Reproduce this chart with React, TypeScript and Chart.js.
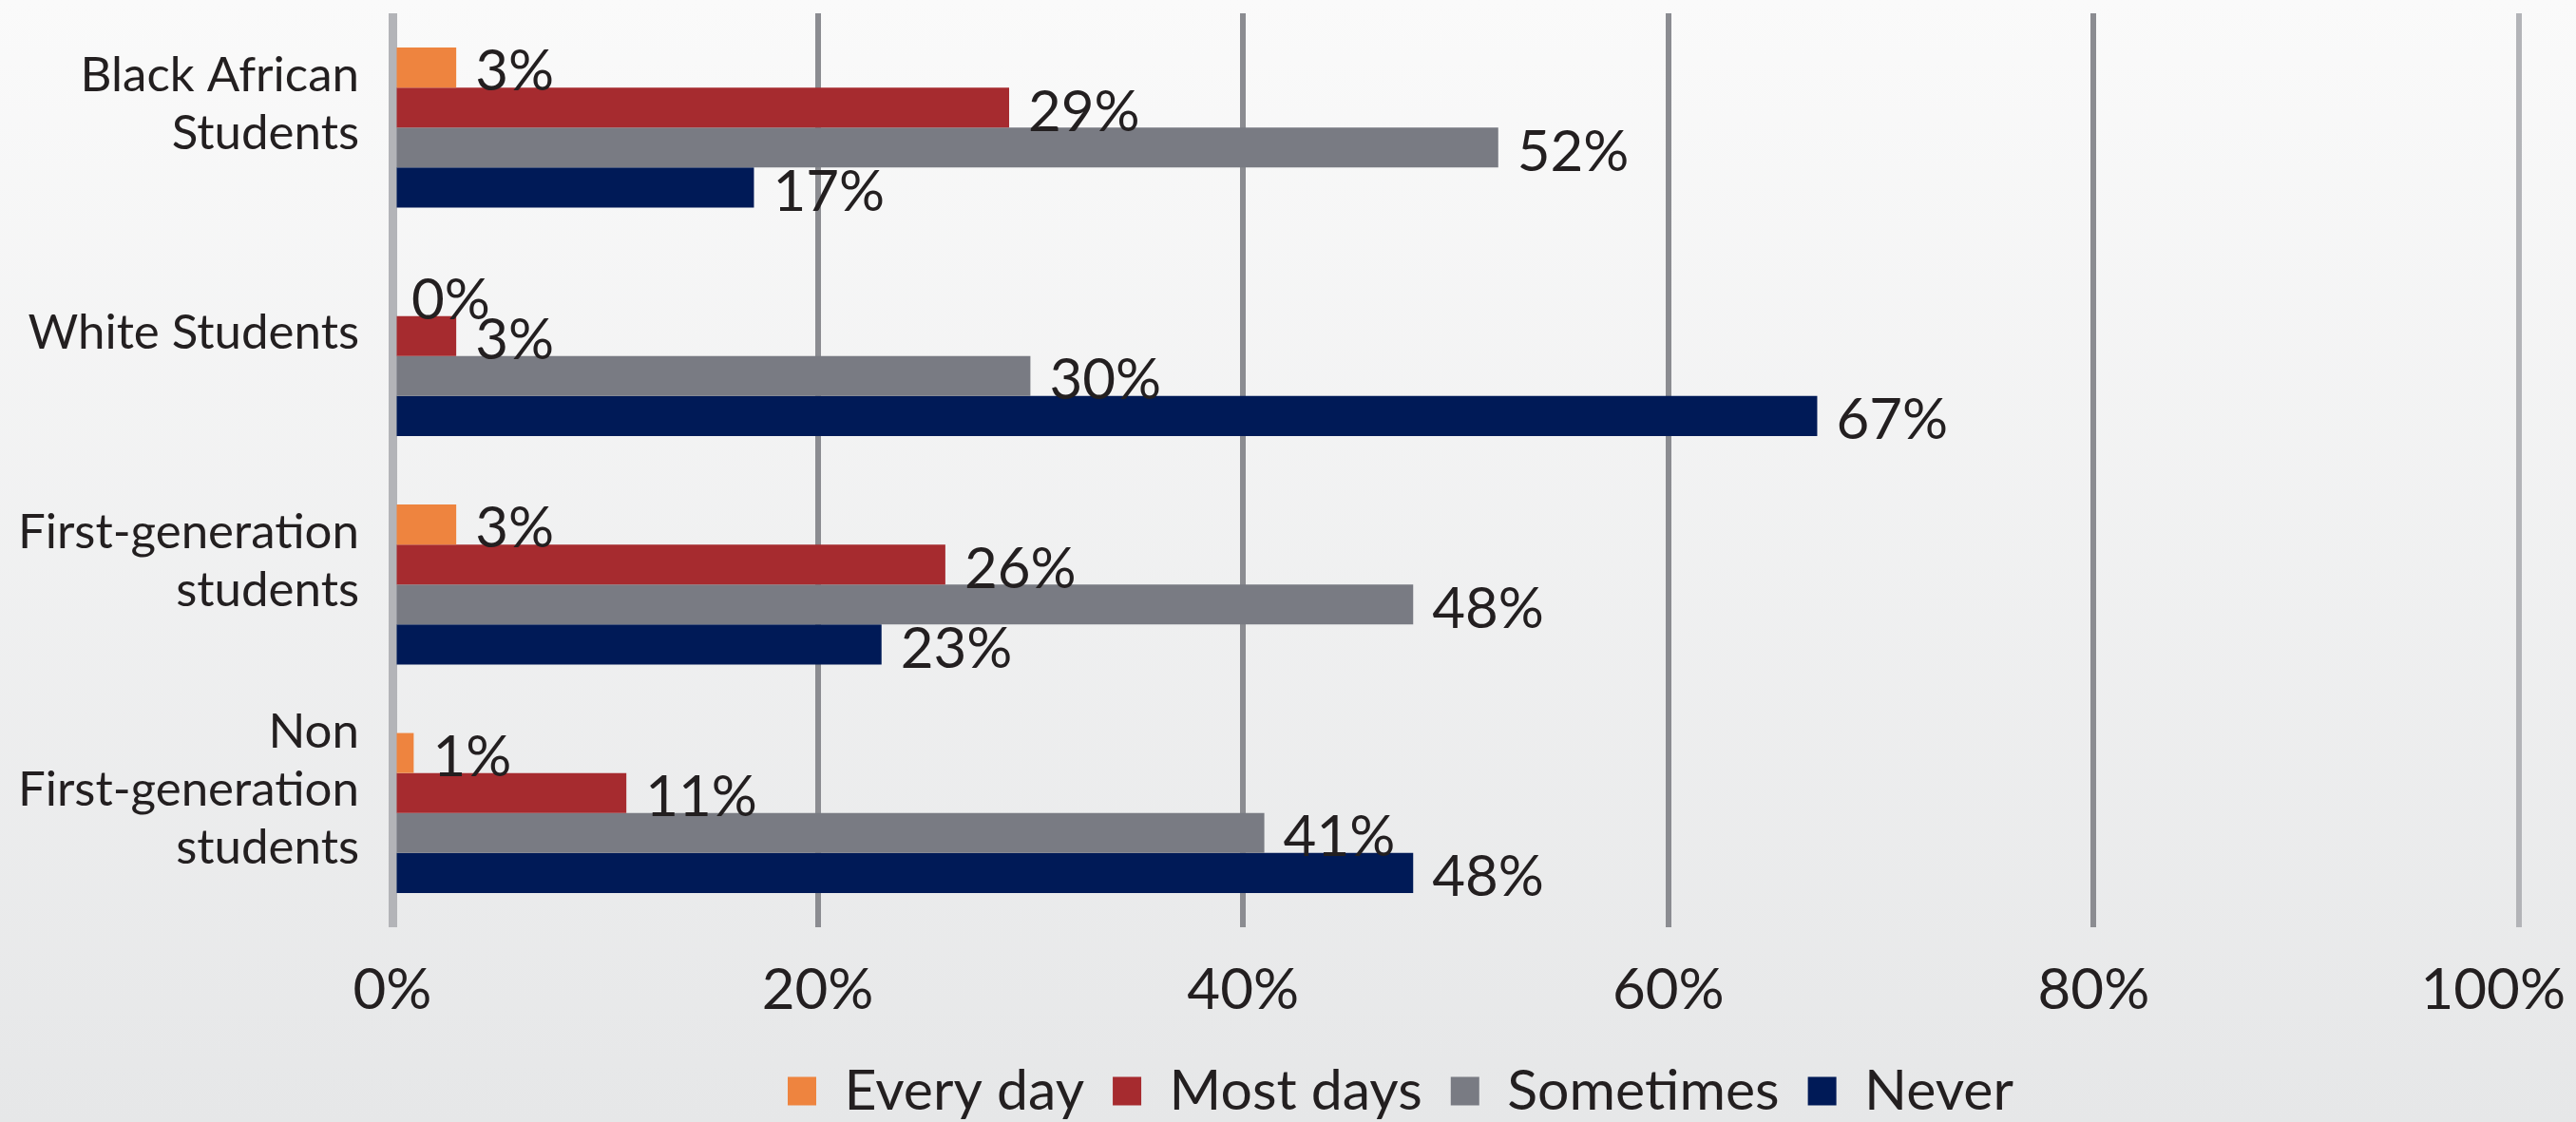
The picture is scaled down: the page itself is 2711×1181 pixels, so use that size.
import React, { useEffect, useRef } from 'react';
import { Chart, registerables } from 'chart.js';

Chart.register(...registerables);

// ---- data ----
const categories: string[][] = [
  ['Black African', 'Students'],
  ['White Students'],
  ['First-generation', 'students'],
  ['Non', 'First-generation', 'students'],
];
const seriesNames = ['Every day', 'Most days', 'Sometimes', 'Never'];
const everyDay = [3, 0, 3, 1];
const mostDays = [29, 3, 26, 11];
const sometimes = [52, 30, 48, 41];
const never = [17, 67, 23, 48];
const seriesColors = ['#EE843F', '#A62B2F', '#797B83', '#001A57'];
const xTickLabels = ['0%', '20%', '40%', '60%', '80%', '100%'];

const TEXT = '#231f20';
const FONT = 'Lato, "Open Sans", sans-serif';

const valueLabels = {
  id: 'valueLabels',
  afterDatasetsDraw(chart: any) {
    const ctx = chart.ctx;
    ctx.save();
    ctx.font = `60px ${FONT}`;
    ctx.fillStyle = TEXT;
    ctx.textAlign = 'left';
    ctx.textBaseline = 'middle';
    chart.data.datasets.forEach((ds: any, di: number) => {
      const meta = chart.getDatasetMeta(di);
      meta.data.forEach((el: any, i: number) => {
        ctx.fillText(`${ds.data[i]}%`, el.x + 20, el.y + 5);
      });
    });
    ctx.restore();
  },
};

const lastTickInside = {
  id: 'lastTickInside',
  beforeDraw(chart: any) {
    const s = chart.scales.x;
    const items = s.getLabelItems();
    const last = items[items.length - 1];
    if (last) {
      last.options.textAlign = 'right';
      last.options.translation = [chart.width - 11, last.options.translation[1]];
    }
  },
};

export default function App() {
  const ref = useRef<HTMLCanvasElement | null>(null);

  useEffect(() => {
    let chart: Chart | null = null;
    let cancelled = false;
    const build = () => {
      if (cancelled || !ref.current) return;
      const datasets = [everyDay, mostDays, sometimes, never].map((d, i) => ({
        label: seriesNames[i],
        data: d,
        backgroundColor: seriesColors[i],
        borderWidth: 0,
        categoryPercentage: 0.7,
        barPercentage: 1.0,
      }));
      chart = new Chart(ref.current, {
        type: 'bar',
        data: { labels: categories, datasets },
        options: {
          indexAxis: 'y',
          responsive: false,
          animation: false,
          layout: { padding: { left: 297, right: 60, top: 14, bottom: -7 } },
          scales: {
            x: {
              min: 0,
              max: 100,
              ticks: {
                stepSize: 20,
                callback: (_v: any, i: number) => xTickLabels[i],
                font: { size: 60, family: FONT },
                color: TEXT,
                padding: 31,
              },
              grid: {
                color: (c: any) => (c.tick && (c.tick.value === 0 || c.tick.value === 100) ? '#b3b4b8' : '#8b8c91'),
                lineWidth: (c: any) => (c.tick && c.tick.value === 0 ? 9 : 6),
                drawTicks: false,
              },
              border: { display: false },
              afterFit: (s: any) => {
                s.height = 113;
                s.paddingRight = 0;
              },
            },
            y: {
              ticks: {
                font: { size: 51, family: FONT, lineHeight: 1.2 },
                color: TEXT,
                padding: 27,
                labelOffset: -24,
              },
              grid: { display: false },
              border: { display: false },
              afterFit: (s: any) => {
                s.width = 116;
                s.paddingTop = 0;
                s.paddingBottom = 0;
                // let the category labels extend past the narrow axis box
                s._computeLabelArea = () => undefined;
              },
            },
          },
          plugins: {
            legend: {
              position: 'bottom',
              labels: {
                boxWidth: 30,
                boxHeight: 30,
                padding: 30,
                font: { size: 59, family: FONT },
                color: TEXT,
              },
            },
            tooltip: { enabled: false },
          },
        } as any,
        plugins: [valueLabels, lastTickInside],
      });
    };
    const fonts: any = (document as any).fonts;
    if (fonts && fonts.load) {
      Promise.all([fonts.load(`60px Lato`), fonts.load(`51px Lato`)]).then(build, build);
    } else {
      build();
    }
    return () => {
      cancelled = true;
      if (chart) chart.destroy();
    };
  }, []);

  return (
    <div
      style={{
        position: 'fixed',
        left: 0,
        top: 0,
        width: 2711,
        height: 1181,
        background: 'linear-gradient(#fafafa, #e6e7e8)',
      }}
    >
      <canvas ref={ref} width={2711} height={1181} style={{ display: 'block' }} />
    </div>
  );
}
